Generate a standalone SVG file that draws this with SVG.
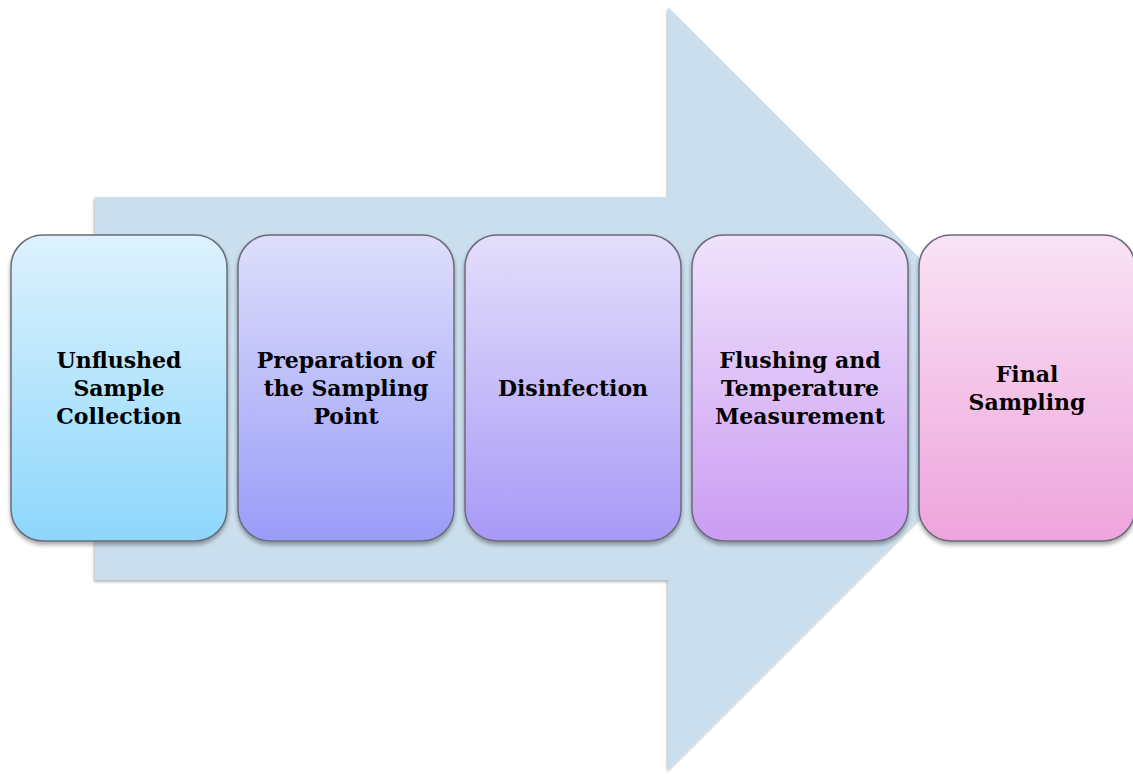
<svg xmlns="http://www.w3.org/2000/svg" width="1133" height="774" viewBox="0 0 1133 774">
<style>
.box{stroke:#6b6b7a;stroke-width:1.5;filter:url(#sh)}
.t{font-family:"DejaVu Serif","Liberation Serif",serif;font-weight:bold;font-size:22px;fill:#000;text-anchor:middle}
</style>
<defs>
<filter id="sh" x="-10%" y="-10%" width="120%" height="120%">
<feGaussianBlur in="SourceAlpha" stdDeviation="2"/>
<feOffset dx="0" dy="3" result="b"/>
<feComponentTransfer><feFuncA type="linear" slope="0.35"/></feComponentTransfer>
<feMerge><feMergeNode/><feMergeNode in="SourceGraphic"/></feMerge>
</filter>
<filter id="ash" x="-5%" y="-5%" width="110%" height="110%">
<feGaussianBlur in="SourceAlpha" stdDeviation="1.5"/>
<feOffset dx="-1" dy="2"/>
<feComponentTransfer><feFuncA type="linear" slope="0.3"/></feComponentTransfer>
<feMerge><feMergeNode/><feMergeNode in="SourceGraphic"/></feMerge>
</filter>
<linearGradient id="g1" x1="0" y1="0" x2="0" y2="1"><stop offset="0" stop-color="#ddf2fe"/><stop offset="1" stop-color="#8dd7fb"/></linearGradient>
<linearGradient id="g2" x1="0" y1="0" x2="0" y2="1"><stop offset="0" stop-color="#dedefb"/><stop offset="1" stop-color="#999cf8"/></linearGradient>
<linearGradient id="g3" x1="0" y1="0" x2="0" y2="1"><stop offset="0" stop-color="#e4defb"/><stop offset="1" stop-color="#a899f7"/></linearGradient>
<linearGradient id="g4" x1="0" y1="0" x2="0" y2="1"><stop offset="0" stop-color="#f0e2fb"/><stop offset="1" stop-color="#cb9cf3"/></linearGradient>
<linearGradient id="g5" x1="0" y1="0" x2="0" y2="1"><stop offset="0" stop-color="#f9e3f5"/><stop offset="1" stop-color="#eea4dc"/></linearGradient>
</defs>
<g id="arrow">
<polygon points="95,197 668,197 668,7 1050,388 668,770 668,580 95,580" fill="#cadeed" filter="url(#ash)"/>
</g>
<g id="connectors"></g>
<g id="n1">
<rect class="box" x="11" y="235" width="216" height="306" rx="32" fill="url(#g1)"/>
<text class="t" x="119" y="368">Unflushed</text>
<text class="t" x="119" y="396">Sample</text>
<text class="t" x="119" y="424">Collection</text>
</g>
<g id="n2">
<rect class="box" x="238" y="235" width="216" height="306" rx="32" fill="url(#g2)"/>
<text class="t" x="346" y="368">Preparation of</text>
<text class="t" x="346" y="396">the Sampling</text>
<text class="t" x="346" y="424">Point</text>
</g>
<g id="n3">
<rect class="box" x="465" y="235" width="216" height="306" rx="32" fill="url(#g3)"/>
<text class="t" x="573" y="396">Disinfection</text>
</g>
<g id="n4">
<rect class="box" x="692" y="235" width="216" height="306" rx="32" fill="url(#g4)"/>
<text class="t" x="800" y="368">Flushing and</text>
<text class="t" x="800" y="396">Temperature</text>
<text class="t" x="800" y="424">Measurement</text>
</g>
<g id="n5">
<rect class="box" x="919" y="235" width="216" height="306" rx="32" fill="url(#g5)"/>
<text class="t" x="1027" y="382">Final</text>
<text class="t" x="1027" y="410">Sampling</text>
</g>
</svg>
